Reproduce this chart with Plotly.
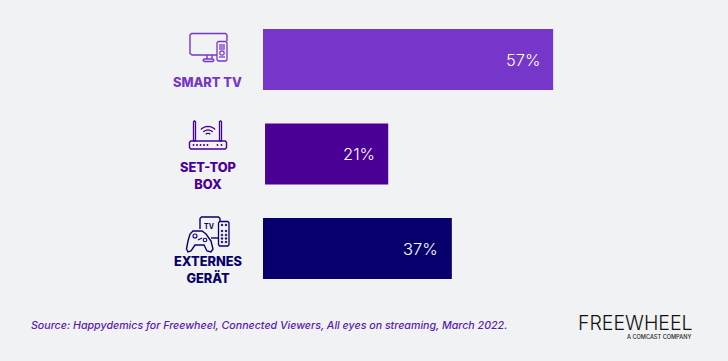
import math
import plotly.graph_objects as go

W, H = 728, 361

# Data
categories = ["SMART TV", "SET-TOP<br>BOX", "EXTERNES<br>GERÄT"]
value_labels = ["57%", "21%", "37%"]
# drawn bar lengths (the set-top bar in the source is not to the same scale as its label)
bar_lengths = [57, 24.2, 37.1]
bar_starts = [0, 0.4, 0]
bar_colors = ["#7636C9", "#4A0094", "#07006C"]
source_text = "Source: Happydemics for Freewheel, Connected Viewers, All eyes on streaming, March 2022."
logo_text = "FREEWHEEL"
logo_sub = "A COMCAST COMPANY"

FONT = "Inter"
BG = "#F1F2F4"
PX = 5.09  # pixels per percent
X0 = 263
ROW = 94.5
Y0 = 59.5

def fx(x): return x / W
def fy(y): return 1 - y / H

shapes = []

def path(points, color, close=False, width=1.4, fill=None):
    d = "M" + " L".join(f"{fx(x):.5f},{fy(y):.5f}" for x, y in points) + (" Z" if close else "")
    s = dict(type="path", xref="paper", yref="paper", path=d,
             line=dict(color=color, width=width))
    if fill:
        s["fillcolor"] = fill
    shapes.append(s)

def rect(x0, y0, x1, y1, color, width=1.4, fill=None, r=1.2):
    pts = [(x0 + r, y0), (x1 - r, y0), (x1, y0 + r), (x1, y1 - r), (x1 - r, y1),
           (x0 + r, y1), (x0, y1 - r), (x0, y0 + r)]
    path(pts, color, True, width, fill)

def circle(cx, cy, r, color, width=1.2, fill=None):
    shapes.append(dict(type="circle", xref="paper", yref="paper",
                       x0=fx(cx - r), x1=fx(cx + r), y0=fy(cy + r), y1=fy(cy - r),
                       line=dict(color=color, width=width), fillcolor=fill or "rgba(0,0,0,0)"))

def arc(cx, cy, r, a0, a1, color, width=1.3, n=16):
    pts = []
    for i in range(n + 1):
        a = math.radians(a0 + (a1 - a0) * i / n)
        pts.append((cx + r * math.cos(a), cy - r * math.sin(a)))
    path(pts, color, False, width)

# TV icon
c = bar_colors[0]
path([(217, 55), (192, 55), (190, 53.5), (190, 35), (191.5, 33.5), (225.5, 33.5), (227, 35), (227, 41)], c)
path([(207, 55), (207, 59)], c)
path([(212, 55), (212, 59)], c)
rect(203, 59, 214, 61.5, c, 1.3)
rect(217, 41.5, 227, 61, c, 1.3)
for yy in (45, 47, 49, 57):
    for xx in (220, 222, 224):
        rect(xx - .4, yy - .4, xx + .4, yy + .4, c, .8, c, 0)
circle(222, 53, 2.2, c)

# Router icon
c = bar_colors[1]
rect(189.5, 141, 226.5, 149, c, 1.4)
rect(193.5, 121, 195.5, 141, c, 1.3, None, .8)
rect(219.5, 121, 221.5, 141, c, 1.3, None, .8)
arc(208, 136.5, 10, 45, 135, c)
arc(208, 136.5, 6.5, 45, 135, c)
arc(208, 136.5, 3.2, 45, 135, c)
for xx in (193.5, 197, 200.5, 204, 207.5, 217.5, 221.5):
    rect(xx - .5, 145 - .5, xx + .5, 145 + .5, c, .9, c, 0)

# Game / TV box / remote icon
c = bar_colors[2]
path([(200, 229), (200, 218.5), (201.5, 217), (218.5, 217), (220, 218.5), (220, 221)], c)
path([(211, 238), (218, 238)], c)
rect(218.5, 221.5, 229, 246, c, 1.3)
for xx in (222, 226):
    for yy in (225, 231, 235, 238.5, 242):
        circle(xx, yy, .9, c, .6, c)
path([(193, 231), (202, 231), (206, 234), (211, 241), (213, 249), (211, 252), (207, 251),
      (204, 245), (195, 245), (191, 251), (188, 252), (186.5, 249), (188, 241), (190, 234)], c, True, 1.4)
circle(195, 236, 2, c, 1.1)
circle(205, 240, 1.8, c, 1.1)
path([(198, 240), (202, 238)], c, False, 1.2)

annotations = []
def text(x, y, t, size, color, xanchor="center", weight=None, style=None, family=FONT):
    f = dict(family=family, size=size, color=color)
    if weight: f["weight"] = weight
    if style: f["style"] = style
    annotations.append(dict(xref="paper", yref="paper", x=fx(x), y=fy(y), text=t, showarrow=False,
                            xanchor=xanchor, yanchor="middle", font=f, align="center"))

# "TV" inside the external-device icon
text(210, 226.5, "TV", 7, bar_colors[2], weight=700)

# Category labels
for (lab, col, yc) in zip(categories, bar_colors, (82, 175.5, 270)):
    text(207.5, yc, lab, 12.8, col, weight=800)

# Value labels, placed from the bar data
for i, (s, l, lab) in enumerate(zip(bar_starts, bar_lengths, value_labels)):
    annotations.append(dict(xref="x", yref="y", x=s + l, y=i, text=lab, showarrow=False,
                            xanchor="right", yanchor="middle", xshift=-11.5,
                            font=dict(family=FONT, size=16.5, color="#FFFFFF", weight=300)))

# Source and logo
text(29, 325.5, source_text, 10.65, "#5A1AB0", "left", style="italic", weight=500)
text(635, 323, logo_text, 19.5, "#111111", "center", weight=300)
text(658.5, 336.5, logo_sub, 5.6, "#222222", "center", weight=500)

fig = go.Figure(go.Bar(
    x=bar_lengths, base=bar_starts, y=[0, 1, 2], orientation="h",
    marker=dict(color=bar_colors, line=dict(width=0)),
    width=0.645,
    hoverinfo="skip",
))
fig.update_layout(
    width=W, height=H, autosize=False,
    margin=dict(l=0, r=0, t=0, b=0),
    paper_bgcolor=BG, plot_bgcolor=BG,
    showlegend=False, shapes=shapes, annotations=annotations,
    xaxis=dict(range=[-X0 / PX, (W - X0) / PX], visible=False, fixedrange=True),
    yaxis=dict(range=[(H - Y0) / ROW, -Y0 / ROW], visible=False, fixedrange=True),
)
fig.write_html("out.html", config=dict(displayModeBar=False),
               post_script="document.body.style.margin='0';document.documentElement.style.background='#F1F2F4';document.body.style.overflow='hidden';")
